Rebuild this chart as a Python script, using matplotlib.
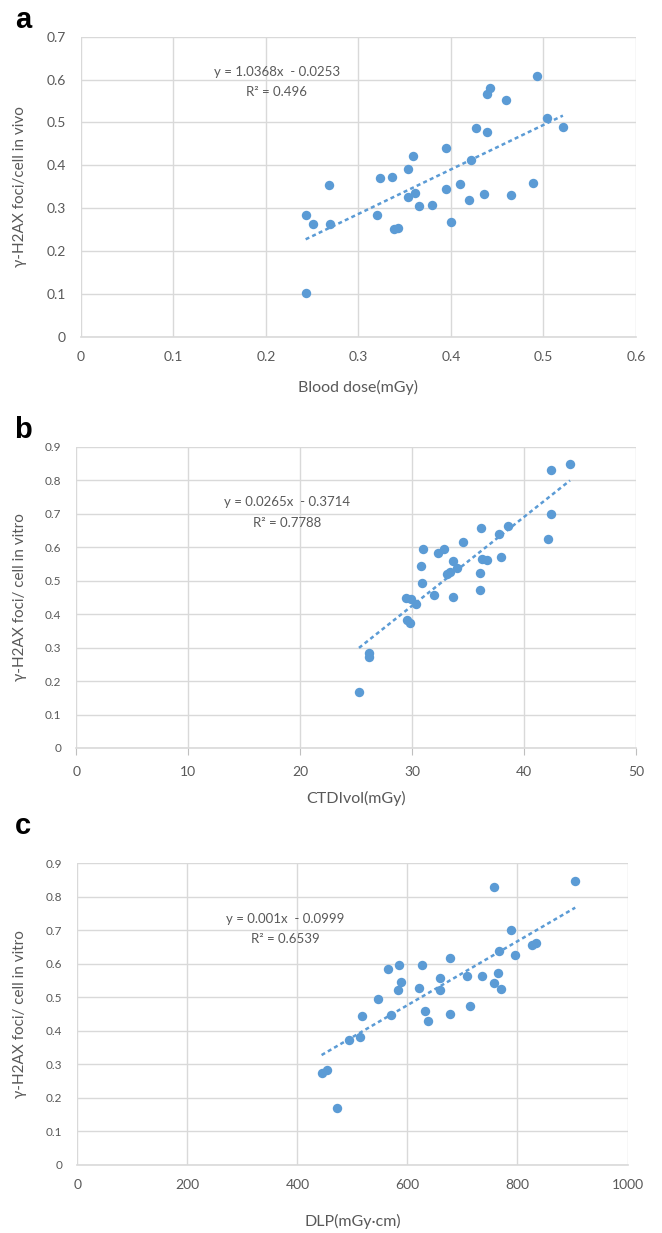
# Three scatter panels with linear trend lines (Excel-style look)

import numpy as np
import matplotlib
matplotlib.use("Agg")
import matplotlib.pyplot as plt

plt.rcParams['font.family'] = ['Lato', 'DejaVu Sans']

# Panel a: blood dose vs foci in vivo
blood_dose = [0.243, 0.251, 0.269, 0.268, 0.243, 0.320, 0.323, 0.336, 0.339, 0.343,
              0.354, 0.359, 0.354, 0.361, 0.365, 0.380, 0.395, 0.395, 0.400, 0.410,
              0.420, 0.422, 0.427, 0.439, 0.436, 0.439, 0.442, 0.460, 0.465, 0.489,
              0.493, 0.504, 0.521]
foci_vivo = [0.284, 0.263, 0.262, 0.355, 0.102, 0.284, 0.370, 0.373, 0.252, 0.254,
             0.391, 0.422, 0.325, 0.336, 0.304, 0.307, 0.440, 0.344, 0.268, 0.357,
             0.320, 0.412, 0.488, 0.478, 0.334, 0.567, 0.580, 0.553, 0.331, 0.359,
             0.609, 0.511, 0.489]

# Panel b: CTDIvol vs foci in vitro
ctdivol = [25.24, 26.13, 26.13, 29.44, 29.88, 29.55, 29.76, 30.36, 30.87, 30.75,
           30.98, 31.96, 32.27, 32.80, 33.10, 33.39, 33.60, 33.60, 34.02, 34.50,
           36.04, 36.04, 36.13, 36.25, 36.64, 37.77, 37.95, 38.54, 42.09, 42.38,
           42.35, 44.08]
foci_vitro_b = [0.167, 0.283, 0.271, 0.447, 0.444, 0.382, 0.372, 0.429, 0.493, 0.544,
                0.594, 0.457, 0.583, 0.595, 0.519, 0.526, 0.558, 0.450, 0.538, 0.615,
                0.523, 0.473, 0.656, 0.564, 0.563, 0.638, 0.571, 0.663, 0.625, 0.699,
                0.830, 0.847]

# Panel c: DLP vs foci in vitro
dlp = [444, 453, 472, 494, 513, 518, 547, 564, 570, 584, 582, 589, 621, 626, 632,
       638, 659, 659, 677, 678, 708, 714, 736, 757, 757, 764, 770, 767, 788, 795,
       827, 834, 905]
foci_vitro_c = [0.273, 0.283, 0.169, 0.373, 0.382, 0.444, 0.495, 0.585, 0.447, 0.596,
                0.522, 0.546, 0.529, 0.596, 0.458, 0.430, 0.559, 0.522, 0.616, 0.451,
                0.565, 0.474, 0.565, 0.542, 0.830, 0.573, 0.525, 0.639, 0.700, 0.626,
                0.656, 0.663, 0.848]

eq_text = ["y = 1.0368x  - 0.0253", "y = 0.0265x  - 0.3714", "y = 0.001x  - 0.0999"]
r2_text = ["R² = 0.496", "R² = 0.7788", "R² = 0.6539"]

W, H = 662, 1233
BLUE = '#5B9BD5'
GRID = '#D9D9D9'
TXT = '#595959'

fig = plt.figure(figsize=(W / 100, H / 100), dpi=100)


def px_box(left, right, top, bottom):
    return [left / W, 1 - bottom / H, (right - left) / W, (bottom - top) / H]


def panel(box, x, y, xmax, xstep, ymax, xlabel, ylabel, eq, r2, eq_pos,
          letter, letter_pos, ticks=False, ylab_x=20, xlab_y=50,
          ytick_fs=10, xtick_fs=10):
    ax = fig.add_axes(px_box(*box))
    ax.scatter(x, y, s=46, color=BLUE, zorder=3, linewidths=0)
    # linear trend line over the data range
    k, b = np.polyfit(x, y, 1)
    xs = np.array([min(x), max(x)])
    ax.plot(xs, k * xs + b, color=BLUE, lw=1.8, linestyle=(0, (1.6, 1.3)), zorder=2)

    ax.set_xlim(0, xmax)
    ax.set_ylim(0, ymax)
    ax.set_xticks(np.arange(0, xmax + xstep / 2, xstep))
    ax.set_yticks(np.arange(0, ymax + 0.05, 0.1))
    ax.set_yticklabels(['0'] + ['%.1f' % v for v in np.arange(0.1, ymax + 0.05, 0.1)])
    if xstep < 1:
        ax.set_xticklabels(['0'] + ['%.1f' % v for v in np.arange(xstep, xmax + xstep / 2, xstep)])
    ax.grid(True, color=GRID, lw=1)
    ax.set_axisbelow(True)
    for s in ['top', 'right', 'left']:
        ax.spines[s].set_visible(False)
    ax.spines['bottom'].set_color(GRID)
    ax.spines['bottom'].set_linewidth(1.2)
    ax.tick_params(axis='y', length=0, pad=11, labelsize=ytick_fs, labelcolor=TXT)
    ax.tick_params(axis='x', length=5 if ticks else 0, color='#BFBFBF',
                   pad=8 if ticks else 10, labelsize=xtick_fs, labelcolor=TXT)

    ax.set_xlabel(xlabel, fontsize=11.5, color=TXT)
    ax.xaxis.set_label_coords(0.5, -(xlab_y) / (box[3] - box[2]))
    ax.xaxis.label.set_va('center')
    ax.set_ylabel(ylabel, fontsize=11, color=TXT)
    ax.yaxis.set_label_coords(-(box[0] - ylab_x) / (box[1] - box[0]), 0.5)
    ax.yaxis.label.set_va('center')

    fig.text(eq_pos[0] / W, 1 - eq_pos[1] / H, eq, ha='center', va='center',
             fontsize=9.5, color=TXT)
    fig.text(eq_pos[0] / W, 1 - eq_pos[2] / H, r2, ha='center', va='center',
             fontsize=9.5, color=TXT)
    fig.text(letter_pos[0] / W, 1 - letter_pos[1] / H, letter, ha='center', va='center',
             fontsize=21, fontweight='bold', family='Liberation Sans')
    return ax


panel((80.8, 636, 36.7, 336.7), blood_dose, foci_vivo, 0.6, 0.1, 0.7,
      'Blood dose(mGy)', 'γ-H2AX foci/cell in vivo',
      eq_text[0], r2_text[0], (277, 71.7, 92), 'a', (23, 20),
      ylab_x=20, xlab_y=51, ytick_fs=10, xtick_fs=10)

panel((76.3, 636.3, 446.7, 748), ctdivol, foci_vitro_b, 50, 10, 0.9,
      'CTDIvol(mGy)', 'γ-H2AX foci/ cell in vitro',
      eq_text[1], r2_text[1], (287, 501.7, 522.7), 'b', (23, 430),
      ticks=True, ylab_x=20, xlab_y=50, ytick_fs=8.5, xtick_fs=10)

panel((77.3, 627.5, 863.3, 1164.8), dlp, foci_vitro_c, 1000, 200, 0.9,
      'DLP(mGy·cm)', 'γ-H2AX foci/ cell in vitro',
      eq_text[2], r2_text[2], (285.5, 919, 939.3), 'c', (23, 826),
      ylab_x=20, xlab_y=57, ytick_fs=8.5, xtick_fs=10)

fig.savefig('out.png', dpi=100)
